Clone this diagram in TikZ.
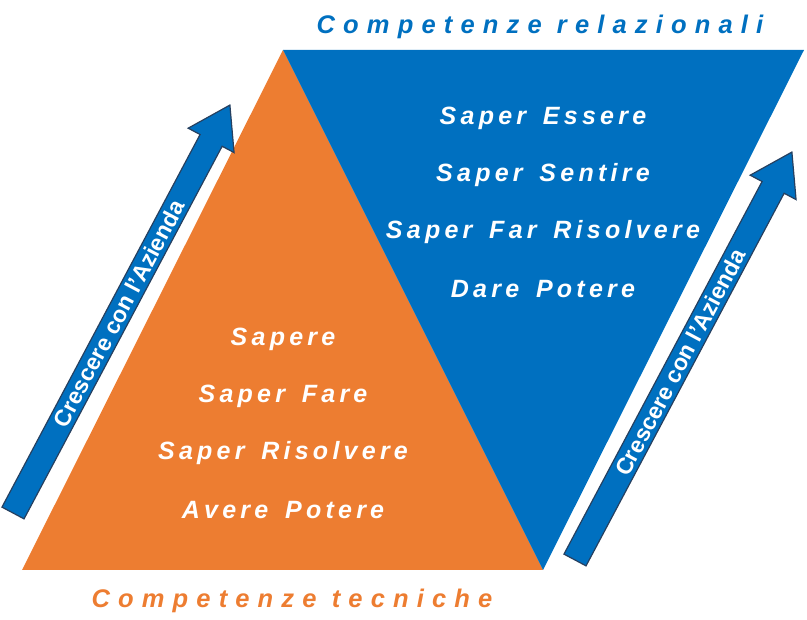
\documentclass[tikz,border=0pt]{standalone}
\usepackage{fontspec}
\setmainfont{Liberation Sans}
\newfontfamily\spfont{Liberation Sans}[LetterSpace=17,WordSpace=1.5]
\begin{document}
\begin{tikzpicture}[x=1pt,y=-1pt,
  ttl/.style={font=\fontsize{25.5}{28}\selectfont\bfseries\itshape\addfontfeature{LetterSpace=32}},
  sp/.style={text=white,font=\spfont\fontsize{25}{28}\selectfont\bfseries\itshape},
  arr/.style={fill={rgb,255:red,0;green,112;blue,192},draw={rgb,255:red,38;green,64;blue,96},line width=1.2pt},
  arrtxt/.style={text=white,font=\fontsize{23}{24}\selectfont\bfseries}]
\definecolor{org}{RGB}{237,125,49}
\definecolor{blu}{RGB}{0,112,192}
\useasboundingbox (0,0) rectangle (807,620);
\fill[org] (22,570) -- (543,570) -- (283,50) -- cycle;
\fill[blu] (283,50) -- (804,50) -- (543,570) -- cycle;
\node[ttl,text=blu] (t1) at (540,27) {Competenze relazionali};
\node[ttl,text=org] (t2) at (292,601) {Competenze tecniche};
\node[sp] (a1) at (543,118) {Saper Essere};
\node[sp] (a2) at (543,175) {Saper Sentire};
\node[sp] (a3) at (543,232) {Saper Far Risolvere};
\node[sp] (a4) at (543,289) {Dare Potere};
\node[sp] (b1) at (283,339) {Sapere};
\node[sp] (b2) at (283,396) {Saper Fare};
\node[sp] (b3) at (283,453) {Saper Risolvere};
\node[sp] (b4) at (283,510) {Avere Potere};
\begin{scope}[shift={(13,513)},rotate=62]
\draw[arr] (0,-12.5) -- (422,-12.5) -- (422,-26) -- (462,0) -- (422,26) -- (422,12.5) -- (0,12.5) -- cycle;
\node[arrtxt,rotate=62] (l1) at (226,0) {Crescere con l’Azienda};
\end{scope}
\begin{scope}[shift={(575,560)},rotate=62]
\draw[arr] (0,-12.5) -- (422,-12.5) -- (422,-26) -- (462,0) -- (422,26) -- (422,12.5) -- (0,12.5) -- cycle;
\node[arrtxt,rotate=62] (l2) at (224,0) {Crescere con l’Azienda};
\end{scope}
\end{tikzpicture}
\end{document}
